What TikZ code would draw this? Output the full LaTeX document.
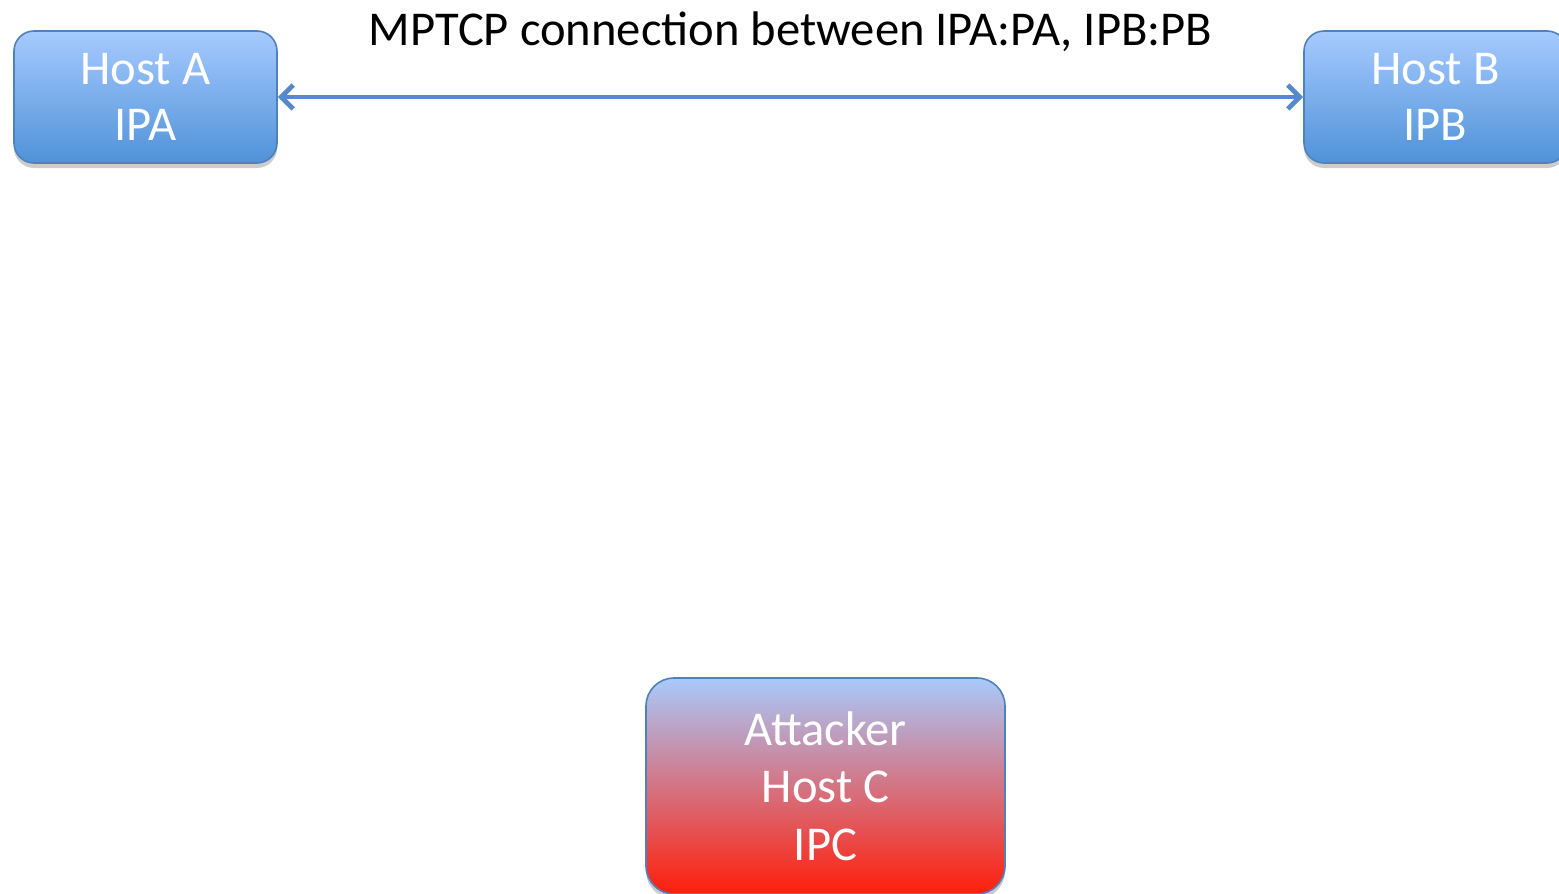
\documentclass[tikz,border=0pt]{standalone}
\usepackage{fontspec}
\setmainfont{Carlito}
\usepackage{tikz}
\usetikzlibrary{arrows.meta,shadows}
\definecolor{hostline}{RGB}{79,129,189}
\definecolor{linkcol}{RGB}{84,138,204}
\definecolor{hosttop}{RGB}{166,202,255}
\definecolor{hostbot}{RGB}{80,146,216}
\definecolor{atktop}{RGB}{168,202,252}
\definecolor{atkmid}{RGB}{210,130,165}
\definecolor{atkbot}{RGB}{255,30,10}

\begin{document}
\begin{tikzpicture}[x=0.5pt,y=-0.5pt,
  host/.style={draw=hostline,line width=0.8pt,rounded corners=10pt,
    top color=hosttop,bottom color=hostbot,text=white,align=center,
    font=\fontsize{24.3}{28}\selectfont,minimum width=131.5pt,minimum height=66pt,
    drop shadow={opacity=0.4,shadow xshift=0pt,shadow yshift=-2.5pt}},
  attacker/.style={host,top color=atktop,middle color=atkmid,bottom color=atkbot,
    minimum width=179.5pt,minimum height=108pt,rounded corners=14pt,
    font=\fontsize{24.3}{28.8}\selectfont},
  link/.style={linkcol,line width=2.4pt,{Straight Barb[length=6pt,width=12pt]}-{Straight Barb[length=6pt,width=12pt]}}]
  \clip (0,0) rectangle (1559,894);
  \node[host] (hostA) at (145.5,97) {Host A\\IPA};
  \node[host] (hostB) at (1435.5,97) {Host B\\IPB};
  \node[attacker] (hostC) at (825.5,786) {Attacker\\Host C\\IPC};
  \draw[link] (hostA) -- (hostB)
    node[midway,above=18pt,text=black,font=\fontsize{24.3}{28}\selectfont] (title) {MPTCP connection between IPA:PA, IPB:PB};
\end{tikzpicture}
\end{document}
